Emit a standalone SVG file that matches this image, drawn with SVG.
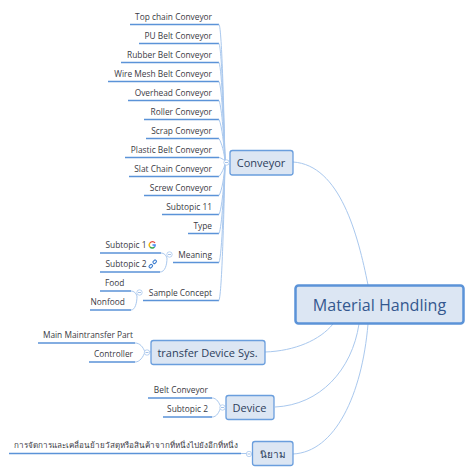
<svg xmlns="http://www.w3.org/2000/svg" width="473" height="474" viewBox="0 0 473 474">
<style>
text{font-family:"Open Sans","Noto Sans","Liberation Sans",sans-serif;fill:#3a3a44}
.l{font-size:8.35px;text-anchor:end}
.s{font-size:8.35px}
.u{fill:none;stroke:#5b93d8;stroke-width:1.3}
.c{fill:none;stroke:#a9c8ee;stroke-width:1}
.n{fill:#dce6f3;stroke:#6a9edd;stroke-width:1.3}
.t{font-size:11px;text-anchor:middle;fill:#2c3e5c}
.o{fill:#fff;stroke:#a9c8ee;stroke-width:.8}
.m{stroke:#7fa9df;stroke-width:.7}
</style>
<defs>
<g id="col"><circle r="2.7" class="o"/><path d="M-1.5 0H1.5" class="m"/></g>
</defs>
<g id="connectors">
<path class="c" d="M293 162C340 165 358 235 368 285"/>
<path class="c" d="M265 352C295 351 320 340 333 324"/>
<path class="c" d="M275 407C320 405 352 370 359 324"/>
<path class="c" d="M293 454C335 452 362 395 368 324"/>
<path class="u" d="M130 24.500H219M139 43.500H219M121 62.500H219M108 81.500H219M128 100.500H219M144 119.500H219M146 138.500H219M125 157.500H219M129 176.500H219M144 195.500H219M162 214.500H219M188 233.500H219M173 262.500H219M143 300.500H219"/>
<path class="c" d="M219 24.500C222 28 224 120 225 161M219 43.500C222 50 224 125 225 161M219 62.500C222 70 224 130 225 161M219 81.500C222 88 224 135 225 161M219 100.500C222 108 224 140 225 161M219 119.500C222 126 224 145 225 161M219 138.500C222 144 224 152 225 161M219 157.500C221 158 223 159 225 161M219 176.500C222 173 224 168 225 164M219 195.500C222 190 224 178 225 164M219 214.500C222 208 224 185 225 164M219 233.500C222 226 224 190 225 164M219 262.500C222 255 224 195 225 164M219 300.500C222 292 224 210 225 164"/>
<path class="u" d="M100 253H161M100 272H160"/>
<path class="c" d="M161 253C164 253 166 255 167 258M160 272C165 272 167 265 167 258"/>
<path class="u" d="M100 291H131M90 310H131"/>
<path class="c" d="M131 291C134 291 136 293 137 296M131 310C135 310 137 303 137 296"/>
<path class="u" d="M38 343H135M89 362H135"/>
<path class="c" d="M135 343C140 343 143 347 145 352M135 362C140 362 143 357 145 352"/>
<path class="u" d="M148 398H212M163 417H212"/>
<path class="c" d="M212 398C217 398 219 403 221 407M212 417C217 417 219 412 221 407"/>
<path class="u" d="M9 453.500H241"/>
<path class="c" d="M241 453.500H247"/>
<path class="c" d="M251 454H252"/>
<path class="c" d="M229 162H230"/>
<path class="c" d="M149 352H151"/>
<path class="c" d="M225 407H226"/>
</g>
<g id="conveyor"><rect class="n" x="230" y="150.500" width="63" height="24.500" rx="2.500"/><text class="t" x="261" y="166.500">Conveyor</text><use href="#col" x="226.500" y="162.500"/></g>
<g id="root"><rect x="295.500" y="285.500" width="168" height="38" rx="3" fill="#dce6f3" stroke="#5b93d8" stroke-width="2.500"/><text x="379.500" y="310.500" font-size="16.100" text-anchor="middle" style="fill:#34588f">Material Handling</text></g>
<g id="transfer"><rect class="n" x="151" y="340.500" width="114" height="24" rx="2.500"/><text class="t" x="207.500" y="356.500">transfer Device Sys.</text><use href="#col" x="147" y="352.500"/></g>
<g id="device"><rect class="n" x="226" y="395.500" width="48" height="24" rx="2.500"/><text class="t" x="249.500" y="411.500">Device</text><use href="#col" x="222.500" y="407.500"/></g>
<g id="niyam"><rect class="n" x="252.500" y="441.500" width="40.500" height="24" rx="2.500"/><text class="t" x="272.500" y="458" style="font-size:10px">นิยาม</text><use href="#col" x="249" y="454"/></g>
<g id="topic-top-chain"><text class="l" x="212" y="20">Top chain Conveyor</text></g>
<g id="topic-pu"><text class="l" x="212" y="39">PU Belt Conveyor</text></g>
<g id="topic-rubber"><text class="l" x="212" y="58">Rubber Belt Conveyor</text></g>
<g id="topic-wire"><text class="l" x="212" y="77">Wire Mesh Belt Conveyor</text></g>
<g id="topic-overhead"><text class="l" x="212" y="96">Overhead Conveyor</text></g>
<g id="topic-roller"><text class="l" x="212" y="115">Roller Conveyor</text></g>
<g id="topic-scrap"><text class="l" x="212" y="134">Scrap Conveyor</text></g>
<g id="topic-plastic"><text class="l" x="212" y="153">Plastic Belt Conveyor</text></g>
<g id="topic-slat"><text class="l" x="212" y="172">Slat Chain Conveyor</text></g>
<g id="topic-screw"><text class="l" x="212" y="191">Screw Conveyor</text></g>
<g id="topic-11"><text class="l" x="212" y="210">Subtopic 11</text></g>
<g id="topic-type"><text class="l" x="212" y="229">Type</text></g>
<g id="topic-meaning"><text class="l" x="212" y="257.500">Meaning</text><use href="#col" x="169.500" y="254.500"/></g>
<g id="topic-sample"><text class="l" x="212" y="295.500">Sample Concept</text><use href="#col" x="139.500" y="292.500"/></g>
<g id="sub1"><text class="s" x="105.500" y="248">Subtopic 1</text><g fill="none" stroke-width="1.300"><path d="M155 243A3 3 0 0 0 150 243" stroke="#e5483c"/><path d="M150 243A3 3 0 0 0 150 247" stroke="#f2b705"/><path d="M150 247A3 3 0 0 0 154.500 247" stroke="#35a853"/><path d="M154.500 247A3 3 0 0 0 155.200 245H152.500" stroke="#4285f4"/></g></g>
<g id="sub2"><text class="s" x="105.500" y="267">Subtopic 2</text><g fill="none" stroke="#3f7fd0" stroke-width="1.100"><rect x="-2.800" y="-1.300" width="3.600" height="2.600" rx="1" transform="translate(151.500 265.500) rotate(-45)"/><rect x="-.8" y="-1.300" width="3.600" height="2.600" rx="1" transform="translate(154 262.500) rotate(-45)"/></g></g>
<g id="food"><text class="s" x="105" y="286">Food</text></g>
<g id="nonfood"><text class="s" x="90.500" y="305">Nonfood</text></g>
<g id="main-part"><text class="l" x="133" y="338">Main Maintransfer Part</text></g>
<g id="controller"><text class="l" x="133" y="357">Controller</text></g>
<g id="belt"><text class="l" x="208" y="393">Belt Conveyor</text></g>
<g id="sub2b"><text class="l" x="208" y="412">Subtopic 2</text></g>
<g id="def"><text class="s" x="14" y="448" style="font-size:8.050px">การจัดการและเคลื่อนย้ายวัสดุหรือสินค้าจากที่หนึ่งไปยังอีกที่หนึ่ง</text></g>
</svg>
